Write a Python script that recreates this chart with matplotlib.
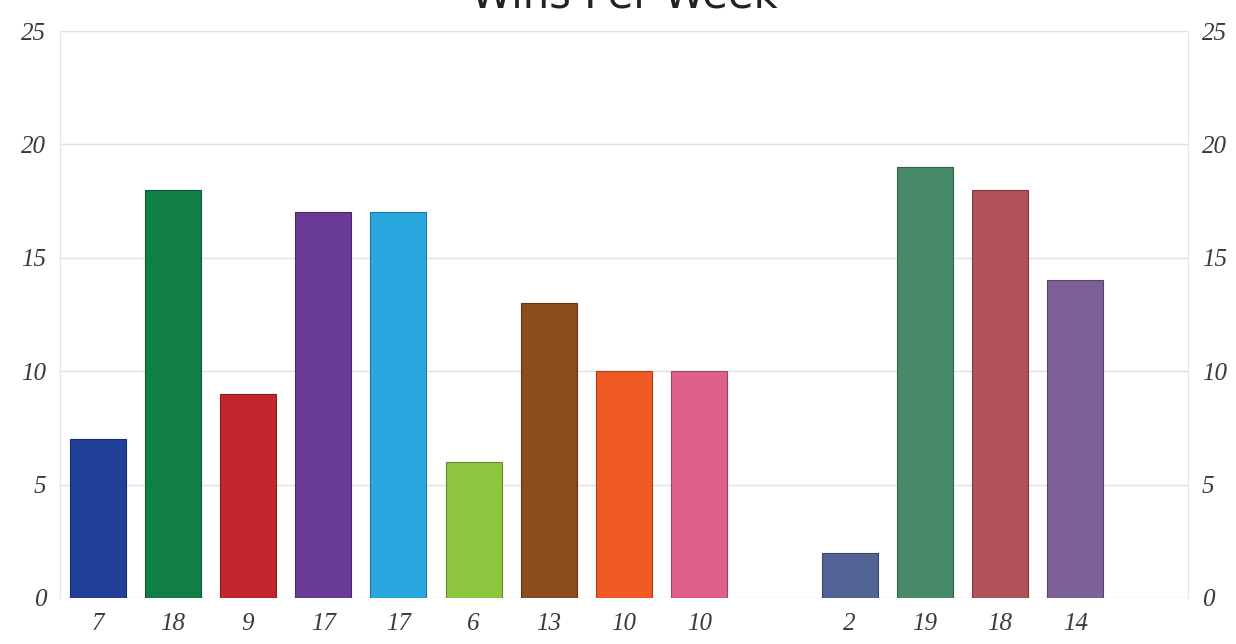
import matplotlib
matplotlib.use("Agg")
import matplotlib.pyplot as plt
import numpy as np

categories = ["7", "18", "9", "17", "17", "6", "13", "10", "10", "", "2", "19", "18", "14", ""]
values = [7, 18, 9, 17, 17, 6, 13, 10, 10, None, 2, 19, 18, 14, None]
colors = ["#21409A", "#0F7F46", "#C1272D", "#6A3B96", "#29A8E0", "#8DC63F",
          "#8B4C1E", "#F15A24", "#E05F8A", "#FFFFFF", "#506394", "#478A69",
          "#B1525A", "#7B6198", "#FFFFFF"]
edge_colors = ["#172D6B", "#0A5931", "#871B1F", "#4A2969", "#1D769D", "#638B2C",
               "#613515", "#A93F19", "#9D4361", "#FFFFFF", "#384568", "#32614A",
               "#7C393F", "#56446B", "#FFFFFF"]
yticks = [0, 5, 10, 15, 20, 25]
title = "Wins Per Week"

W, H = 1236, 644
fig = plt.figure(figsize=(W / 100, H / 100), dpi=100)
ax = fig.add_axes([60 / W, 1 - 598 / H, (1188 - 60) / W, (598 - 31) / H])

x = np.arange(len(categories))
for i, v in enumerate(values):
    if v is None:
        continue
    ax.bar(x[i], v, width=0.745, color=colors[i], edgecolor=edge_colors[i],
           linewidth=0.8, zorder=3)

ax.set_xlim(-0.5, len(categories) - 0.5)
ax.set_ylim(0, 25)
ax.set_yticks(yticks)
ax.set_xticks(x)
ax.set_xticklabels(categories)
ax.grid(axis="y", color="#E0E0E0", linewidth=1, zorder=0)
for s in ["top", "bottom"]:
    ax.spines[s].set_visible(False)
for s in ["left", "right"]:
    ax.spines[s].set_color("#E6E6E6")
    ax.spines[s].set_linewidth(1)

font = dict(family="Liberation Serif", style="italic", size=18, color="#3A3A3A")
ax.tick_params(axis="both", length=0)
ax.tick_params(axis="y", pad=10, labelleft=True, labelright=True)
ax.tick_params(axis="x", pad=11)
for lab in ax.get_xticklabels():
    lab.set_fontfamily(font["family"])
    lab.set_fontstyle(font["style"])
    lab.set_fontsize(font["size"])
    lab.set_color(font["color"])
for t in ax.yaxis.get_major_ticks():
    for l in (t.label1, t.label2):
        l.set_fontfamily(font["family"])
        l.set_fontstyle(font["style"])
        l.set_fontsize(font["size"])
        l.set_color(font["color"])

fig.text(0.505, 1 - 7 / H, title, ha="center", va="baseline",
         fontsize=30, color="#222222", family="DejaVu Sans")

fig.savefig("out.png", dpi=100)
